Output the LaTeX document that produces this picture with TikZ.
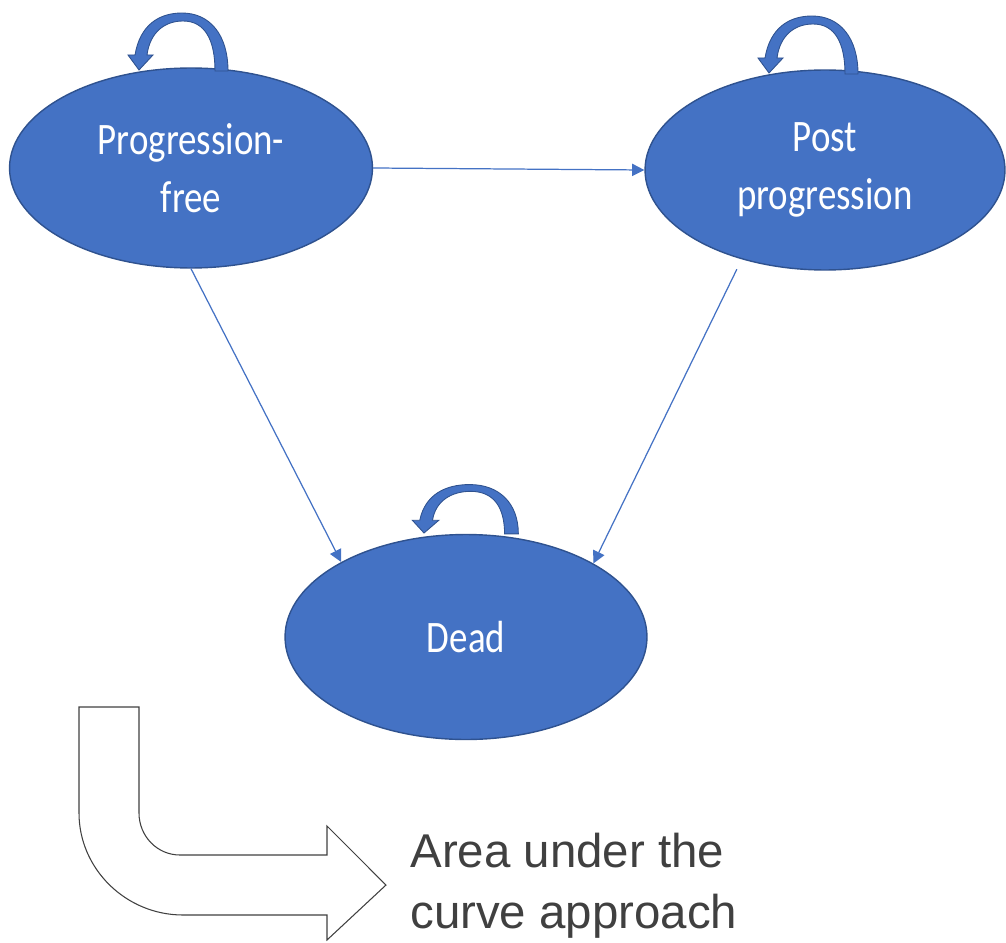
\documentclass[tikz,border=0pt]{standalone}
\usepackage{fontspec}
\usetikzlibrary{shapes.geometric,arrows.meta}
\newfontfamily\calib{Carlito}
\newfontfamily\arialf{Liberation Sans}
\definecolor{nodeblue}{HTML}{4472C4}
\definecolor{nodeedge}{HTML}{2F528F}
\definecolor{txtgray}{HTML}{404040}
\newcommand{\stxt}[1]{\scalebox{1}[1.22]{#1}}
\tikzset{
  state/.style={ellipse, draw=nodeedge, line width=0.8pt, fill=nodeblue, text=white,
    font=\calib\fontsize{21pt}{33pt}\selectfont, align=center, inner sep=0pt},
  trans/.style={draw=nodeblue, line width=0.7pt, -{Triangle[length=7pt,width=7pt]}},
  loopshape/.style={fill=nodeblue, draw=nodeedge, line width=0.5pt},
  selfloop/.pic={
    \path[loopshape] (-4,-15) .. controls (1,-45) and (20,-57) .. (43,-57)
      .. controls (71,-57) and (89,-35) .. (89,1)
      -- (76,1) .. controls (76,-30) and (66,-49) .. (44,-49)
      .. controls (26,-49) and (11,-38) .. (8,-15)
      -- (14,-15) -- (0,0) -- (-11,-15) -- cycle;
  }
}
\begin{document}
\begin{tikzpicture}[x=0.02cm,y=-0.02cm]
\useasboundingbox (0,0) rectangle (1006,942);
\node[state, minimum width=7.26cm, minimum height=4cm] (pf) at (191,168)
  {\stxt{Progression-}\\ \stxt{free}};
\node[state, minimum width=7.2cm, minimum height=4cm] (pp) at (825,170)
  {\stxt{Post}\\ \stxt{progression}};
\node[state, minimum width=7.24cm, minimum height=4.1cm] (dead) at (466,637)
  {\stxt{Dead}};
\draw[trans] (pf.east) -- (pp.west);
\draw[trans] (pf.south) -- (dead.149);
\draw[trans, shorten <=0.22cm] (pp.227.6) -- (dead.30);
\pic at (139,70) {selfloop};
\pic at (769,73) {selfloop};
\pic[xscale=1.06, yscale=0.85] at (424,533) {selfloop};
\draw[draw=txtgray, line width=0.6pt, fill=white]
  (79,707) -- (139,707) -- (139,813)
  .. controls (139,836) and (157,855) .. (180,855)
  -- (327,855) -- (327,826) -- (386,885) -- (327,940) -- (327,915) -- (183,915)
  .. controls (126,915) and (79,869) .. (79,813) -- cycle;
\node[anchor=base west, inner sep=0pt, align=left, text=txtgray,
  font=\arialf\fontsize{27pt}{34.7pt}\selectfont] (auc) at (410,928)
  {Area under the\\curve approach};
\end{tikzpicture}
\end{document}
